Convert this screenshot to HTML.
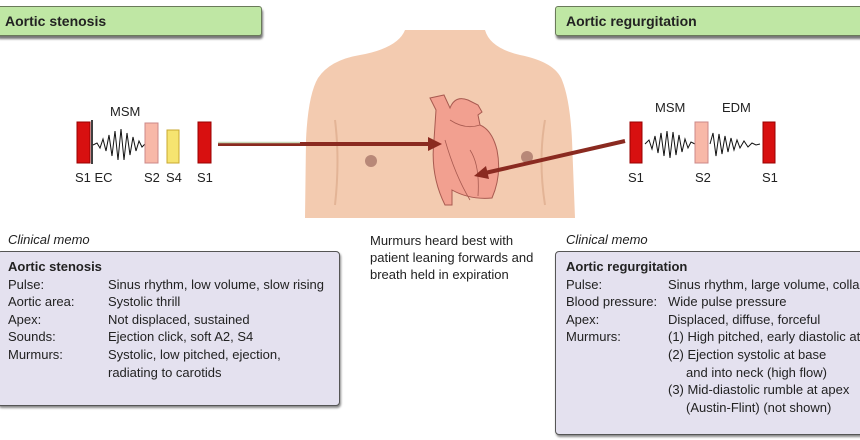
<!DOCTYPE html>
<html><head><meta charset="utf-8"><style>
body{margin:0;width:860px;height:440px;overflow:hidden;background:#fff;position:relative;font-family:"Liberation Sans Narrow","Liberation Sans",sans-serif;color:#222}
.a{position:absolute;white-space:nowrap;font-size:13px}
.hdr{position:absolute;background:#bfe7a4;border:1px solid #6a7a5a;border-radius:3px;box-shadow:1px 3px 2px #777;font-weight:bold;font-size:14px;padding:6px 8px;box-sizing:border-box;height:30px}
.memo{position:absolute;background:#e4e1ef;border:1px solid #555;border-radius:4px;box-shadow:1px 2px 2px #888}
</style></head><body>
<div class="hdr" style="left:-4px;top:6px;width:266px">Aortic stenosis</div>
<div class="hdr" style="left:555px;top:6px;width:310px;padding-left:10px">Aortic regurgitation</div>

<svg width="860" height="440" style="position:absolute;left:0;top:0">
 <!-- torso -->
 <path d="M405,30 L485,30 Q490,48 520,55 Q555,62 562,80 Q570,100 572,140 L575,218 L305,218 L306,140 Q308,95 318,78 Q330,60 360,55 Q398,48 405,30Z" fill="#f3cbb0"/>
 <path d="M335,120 Q340,160 335,205 M545,120 Q538,160 545,205" stroke="#e3b496" fill="none" stroke-width="2"/>
 <circle cx="371" cy="161" r="6" fill="#b88878"/><circle cx="527" cy="157" r="6" fill="#b88878"/>
 <!-- heart -->
 <path d="M430,98 L436,110 L434,140 Q430,175 445,205 L452,205 L452,190 Q470,200 492,198 Q502,175 497,150 Q492,130 480,125 L478,115 L482,112 L478,105 L468,100 Q455,95 450,108 L444,95 Z" fill="#f2a090" stroke="#a85a50" stroke-width="1"/>
 <path d="M445,140 Q455,175 470,200 M470,150 Q480,165 478,196 M450,120 Q465,130 480,125" stroke="#a85a50" fill="none" stroke-width="0.8"/>
 <!-- arrows -->
 <line x1="218" y1="144" x2="430" y2="144" stroke="#8a2a20" stroke-width="4"/>
 <line x1="218" y1="142.5" x2="300" y2="142.5" stroke="#c8d8b8" stroke-width="1.5"/>
 <polygon points="442,144 428,137 428,151" fill="#8a2a20"/>
 <line x1="625" y1="141" x2="485" y2="173" stroke="#8a2a20" stroke-width="4"/>
 <polygon points="474,176 486,166 489,179" fill="#8a2a20"/>
 <!-- left sounds -->
 <rect x="77" y="122" width="13" height="41" fill="#d81010" stroke="#900"/>
 <line x1="92" y1="120" x2="92" y2="164" stroke="#000" stroke-width="1.5"/>
 <polyline points="93,145 97,143 100,148 103,139 106,151 109,135 112,156 115,131 118,160 121,129 124,160 127,133 130,155 133,137 136,151 139,141 142,147 145,144" fill="none" stroke="#111" stroke-width="1"/>
 <rect x="145" y="123" width="13" height="40" fill="#f8b8a8" stroke="#c88"/>
 <rect x="167" y="130" width="12" height="33" fill="#f6e470" stroke="#c8a830"/>
 <rect x="198" y="122" width="13" height="41" fill="#d81010" stroke="#900"/>
 <!-- right sounds -->
 <rect x="630" y="122" width="12" height="41" fill="#d81010" stroke="#900"/>
 <polyline points="645,144 649,140 652,149 655,136 658,153 661,133 664,156 667,131 670,158 673,132 676,155 679,135 682,152 685,139 688,148 691,142 695,144" fill="none" stroke="#111" stroke-width="1"/>
 <rect x="695" y="122" width="13" height="41" fill="#f8b8a8" stroke="#c88"/>
 <polyline points="710,144 713,133 716,156 719,134 722,154 725,136 728,152 731,138 734,150 737,140 740,148 744,141 748,147 752,143 756,145 760,144" fill="none" stroke="#111" stroke-width="1"/>
 <rect x="763" y="122" width="12" height="41" fill="#d81010" stroke="#900"/>
</svg>

<div class="a" style="left:110px;top:104px">MSM</div>
<div class="a" style="left:75px;top:170px">S1 EC</div>
<div class="a" style="left:144px;top:170px">S2</div>
<div class="a" style="left:166px;top:170px">S4</div>
<div class="a" style="left:197px;top:170px">S1</div>
<div class="a" style="left:655px;top:100px">MSM</div>
<div class="a" style="left:722px;top:100px">EDM</div>
<div class="a" style="left:628px;top:170px">S1</div>
<div class="a" style="left:695px;top:170px">S2</div>
<div class="a" style="left:762px;top:170px">S1</div>

<div class="a" style="left:8px;top:232px;font-style:italic">Clinical memo</div>
<div class="a" style="left:566px;top:232px;font-style:italic">Clinical memo</div>
<div class="a" style="left:370px;top:232px;line-height:17px">Murmurs heard best with<br>patient leaning forwards and<br>breath held in expiration</div>

<div class="memo" style="left:-3px;top:251px;width:341px;height:153px"></div>
<div class="a" style="left:8px;top:258px;line-height:17.6px">
<b>Aortic stenosis</b><br>Pulse:<br>Aortic area:<br>Apex:<br>Sounds:<br>Murmurs:</div>
<div class="a" style="left:108px;top:275.6px;line-height:17.6px">Sinus rhythm, low volume, slow rising<br>Systolic thrill<br>Not displaced, sustained<br>Ejection click, soft A2, S4<br>Systolic, low pitched, ejection,<br>radiating to carotids</div>

<div class="memo" style="left:555px;top:251px;width:310px;height:182px"></div>
<div class="a" style="left:566px;top:258px;line-height:17.6px">
<b>Aortic regurgitation</b><br>Pulse:<br>Blood pressure:<br>Apex:<br>Murmurs:</div>
<div class="a" style="left:668px;top:275.6px;line-height:17.6px">Sinus rhythm, large volume, collap<br>Wide pulse pressure<br>Displaced, diffuse, forceful<br>(1) High pitched, early diastolic at<br>(2) Ejection systolic at base<br>&nbsp;&nbsp;&nbsp;&nbsp;&nbsp;and into neck (high flow)<br>(3) Mid-diastolic rumble at apex<br>&nbsp;&nbsp;&nbsp;&nbsp;&nbsp;(Austin-Flint) (not shown)</div>
</body></html>
